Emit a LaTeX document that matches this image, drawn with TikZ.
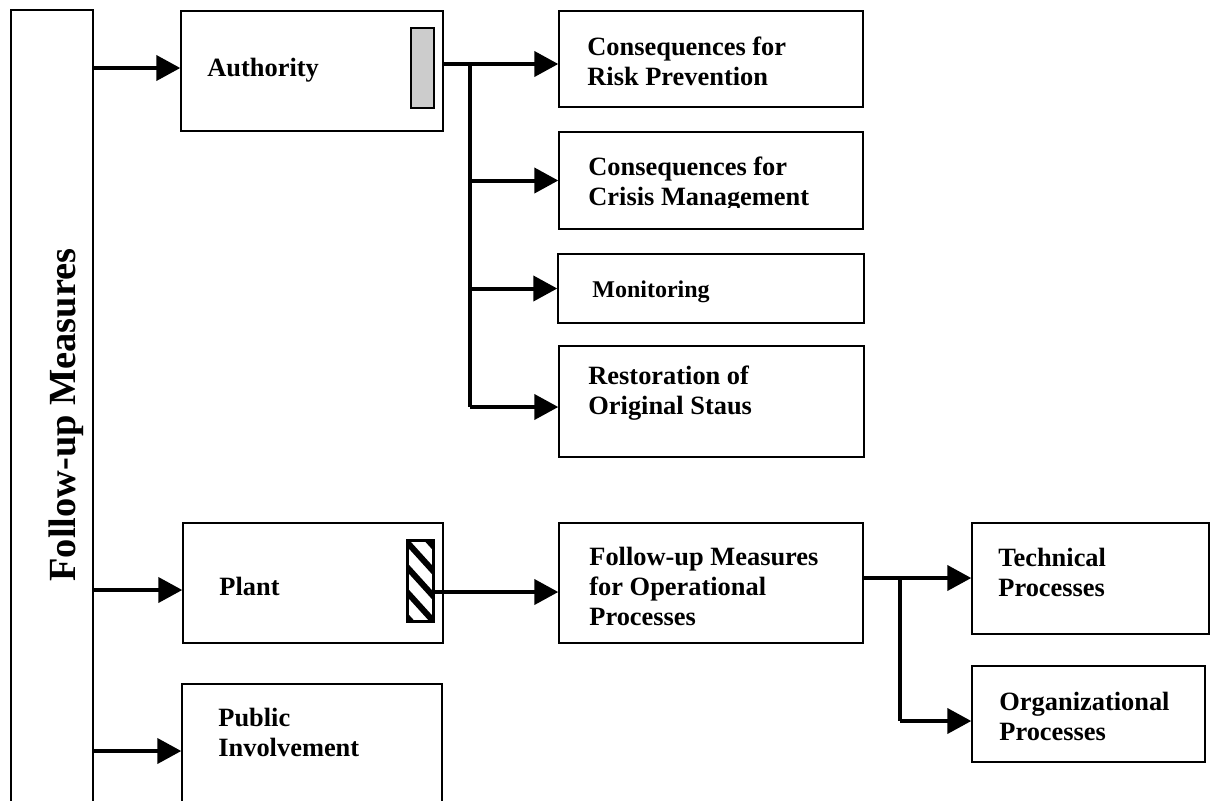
\documentclass[tikz,border=0pt]{standalone}
\usepackage{fontspec}
\setmainfont{Liberation Serif}
\usetikzlibrary{arrows.meta}
\begin{document}
\begin{tikzpicture}[x=0.5pt,y=-0.5pt,
  box/.style={draw, line width=0.7pt, rectangle, inner sep=0pt, fill=white},
  arr/.style={line width=2pt, -{Triangle[length=12pt,width=12.5pt]}},
  ln/.style={line width=2pt},
  txt/.style={anchor=base west, inner sep=0pt, font=\fontsize{13.2}{15}\selectfont\bfseries},
  smalltxt/.style={anchor=base west, inner sep=0pt, font=\fontsize{12}{14}\selectfont\bfseries},
  bigtxt/.style={anchor=base west, inner sep=0pt, rotate=90, font=\fontsize{19.2}{22}\selectfont\bfseries}
]
\useasboundingbox (0,0) rectangle (1210,800);
\fill[white] (0,0) rectangle (1210,800);

% boxes
\node[box, minimum width=41pt, minimum height=405pt] (fm) at (52,415) {};
\node[box, minimum width=131pt, minimum height=60pt] (auth) at (312,71) {};
\node[box, minimum width=152pt, minimum height=48pt] (crp) at (711,59) {};
\node[box, minimum width=152pt, minimum height=48.5pt] (ccm) at (711,180.5) {};
\node[box, minimum width=153pt, minimum height=34.5pt] (mon) at (711,288.5) {};
\node[box, minimum width=152.5pt, minimum height=55.5pt] (res) at (711.5,401.5) {};
\node[box, minimum width=130pt, minimum height=60pt] (plant) at (313,583) {};
\node[box, minimum width=152pt, minimum height=60pt] (fop) at (711,583) {};
\node[box, minimum width=118.5pt, minimum height=55.5pt] (tech) at (1090.5,578.5) {};
\node[box, minimum width=116.5pt, minimum height=48pt] (org) at (1088.5,714) {};
\node[box, minimum width=130pt, minimum height=73pt] (pub) at (312,757) {};

% markers
\node[box, fill=black!20, minimum width=11.5pt, minimum height=40pt] (grey) at (422.5,68) {};
\node[box, minimum width=12.5pt, minimum height=40pt] (hatch) at (420.5,581) {};
\begin{scope}
  \clip (hatch.north west) rectangle (hatch.south east);
  \foreach \k in {0,...,4} \draw[line width=3pt] (406,516+25*\k) -- (435,548+25*\k);
\end{scope}
\draw[line width=0.9pt] (hatch.north west) rectangle (hatch.south east);

% texts
\node[bigtxt] (tfm) at (75,582) {Follow-up Measures};
\node[txt] (tauth) at (207,76) {Authority};
\node[txt] (tcrp) at (587,55) {\vtop{\hbox{Consequences for}\hbox{Risk Prevention}}};
\begin{scope}
  \clip (560,133) rectangle (862,207.5);
  \node[txt] (tccm) at (588,175) {\vtop{\hbox{Consequences for}\hbox{Crisis Management}}};
\end{scope}
\node[smalltxt] (tmon) at (592,297) {Monitoring};
\node[txt] (tres) at (588,384) {\vtop{\hbox{Restoration of}\hbox{Original Staus}}};
\node[txt] (tplant) at (219,595) {Plant};
\node[txt] (tfop) at (589,565) {\vtop{\hbox{Follow-up Measures}\hbox{for Operational}\hbox{Processes}}};
\node[txt] (ttech) at (998,566) {\vtop{\hbox{Technical}\hbox{Processes}}};
\node[txt] (torg) at (999,710) {\vtop{\hbox{Organizational}\hbox{Processes}}};
\node[txt] (tpub) at (218,726) {\vtop{\hbox{Public}\hbox{Involvement}}};

% connector coordinates
\coordinate (ya) at (0,68);
\coordinate (yp) at (0,590);
\coordinate (yu) at (0,751);
\coordinate (ja) at (470,64);
\coordinate (jr) at (470,407);
\coordinate (pj) at (0,592);
\coordinate (jt) at (900,578);
\coordinate (jo) at (900,721);

% connectors from left column
\draw[arr] (fm.east |- ya) -- (auth.west |- ya);
\draw[arr] (fm.east |- yp) -- (plant.west |- yp);
\draw[arr] (fm.east |- yu) -- (pub.west |- yu);

% authority branch
\draw[ln] (auth.east |- ja) -- (ja);
\draw[arr] (ja) -- (crp.west |- ja);
\draw[ln] (ja) -- (jr);
\draw[arr] (ja |- ccm.west) -- (ccm.west);
\draw[arr] (ja |- mon.west) -- (mon.west);
\draw[arr] (jr) -- (res.west |- jr);

% plant branch
\draw[arr] (hatch.east |- pj) -- (fop.west |- pj);
\draw[ln] (fop.east |- jt) -- (jt);
\draw[arr] (jt) -- (tech.west |- jt);
\draw[ln] (jt) -- (jo);
\draw[arr] (jo) -- (org.west |- jo);
\end{tikzpicture}
\end{document}
